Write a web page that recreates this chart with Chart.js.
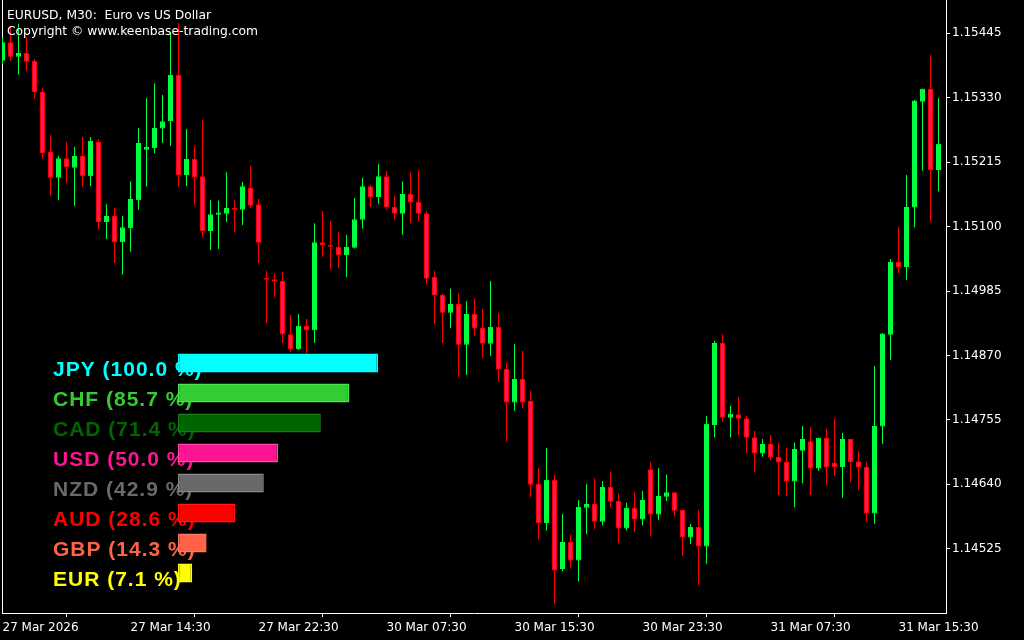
<!DOCTYPE html>
<html>
<head>
<meta charset="utf-8">
<script src="https://cdn.jsdelivr.net/npm/chart.js"></script>
<style>
  html, body { margin: 0; padding: 0; background: #000; }
  #wrap { position: relative; width: 1024px; height: 640px; background: #000; }
  #wrap canvas { position: absolute; left: 0; top: 0; }
</style>
</head>
<body>
<div id="wrap">
  <canvas id="main" width="1024" height="640"></canvas>
  <canvas id="strength" width="1024" height="640"></canvas>
</div>
<script>
// ---------- DATA ----------
const titleLines = ['EURUSD, M30:  Euro vs US Dollar', 'Copyright \u00A9 www.keenbase-trading.com'];

const open = [
1.15396,1.15429,1.15403,1.15410,1.15396,1.15340,1.15233,1.15187,1.15222,1.15205,
1.15226,1.15190,1.15251,1.15108,1.15119,1.15072,1.15097,1.15147,1.15237,1.15240,
1.15275,1.15288,1.15371,1.15192,1.15221,1.15190,1.15092,1.15121,1.15123,1.15133,
1.15130,1.15169,1.15140,1.15008,1.15006,1.15003,1.14908,1.14881,1.14923,1.14915,
1.15072,1.15067,1.15064,1.15049,1.15062,1.15112,1.15172,1.15153,1.15190,1.15135,
1.15123,1.15158,1.15144,1.15124,1.15010,1.14978,1.14946,1.14962,1.14889,1.14944,
1.14919,1.14891,1.14921,1.14846,1.14786,1.14828,1.14789,1.14641,1.14571,1.14648,
1.14489,1.14537,1.14504,1.14598,1.14605,1.14573,1.14635,1.14610,1.14561,1.14598,
1.14577,1.14667,1.14586,1.14618,1.14626,1.14594,1.14545,1.14564,1.14529,1.14746,
1.14892,1.14759,1.14765,1.14758,1.14724,1.14695,1.14712,1.14689,1.14680,1.14645,
1.14700,1.14717,1.14668,1.14723,1.14679,1.14671,1.14721,1.14681,1.14671,1.14588,
1.14743,1.14907,1.15037,1.15028,1.15134,1.15323,1.15346,1.15201];

const high = [
1.15437,1.15456,1.15462,1.15438,1.15399,1.15347,1.15263,1.15226,1.15251,1.15242,
1.15260,1.15260,1.15256,1.15140,1.15133,1.15119,1.15181,1.15276,1.15329,1.15356,
1.15335,1.15447,1.15463,1.15274,1.15244,1.15290,1.15147,1.15146,1.15197,1.15147,
1.15180,1.15208,1.15149,1.15021,1.15017,1.15019,1.14942,1.14944,1.14935,1.15106,
1.15128,1.15110,1.15090,1.15085,1.15151,1.15187,1.15174,1.15212,1.15199,1.15155,
1.15181,1.15197,1.15201,1.15128,1.15021,1.14981,1.14989,1.14981,1.14967,1.14972,
1.14953,1.15003,1.14946,1.14858,1.14890,1.14878,1.14807,1.14669,1.14705,1.14657,
1.14587,1.14550,1.14612,1.14641,1.14651,1.14646,1.14662,1.14623,1.14607,1.14626,
1.14628,1.14680,1.14669,1.14657,1.14626,1.14594,1.14569,1.14594,1.14762,1.14896,
1.14908,1.14780,1.14796,1.14762,1.14735,1.14721,1.14728,1.14714,1.14705,1.14714,
1.14744,1.14742,1.14723,1.14739,1.14758,1.14732,1.14721,1.14699,1.14680,1.14851,
1.14910,1.15042,1.15099,1.15192,1.15326,1.15346,1.15406,1.15329];

const low = [
1.15390,1.15396,1.15371,1.15378,1.15328,1.15221,1.15155,1.15147,1.15178,1.15137,
1.15171,1.15172,1.15094,1.15078,1.15035,1.15014,1.15055,1.15130,1.15171,1.15231,
1.15249,1.15244,1.15171,1.15172,1.15139,1.15081,1.15058,1.15060,1.15108,1.15090,
1.15103,1.15133,1.15035,1.14928,1.14974,1.14892,1.14876,1.14880,1.14874,1.14892,
1.15046,1.15024,1.15026,1.15010,1.15061,1.15096,1.15135,1.15140,1.15130,1.15112,
1.15085,1.15106,1.15108,1.14997,1.14926,1.14892,1.14919,1.14831,1.14835,1.14905,
1.14865,1.14869,1.14824,1.14716,1.14771,1.14776,1.14617,1.14541,1.14557,1.14426,
1.14485,1.14491,1.14467,1.14551,1.14560,1.14567,1.14599,1.14535,1.14558,1.14555,
1.14567,1.14548,1.14576,1.14610,1.14583,1.14512,1.14533,1.14460,1.14498,1.14724,
1.14751,1.14724,1.14728,1.14696,1.14662,1.14689,1.14683,1.14621,1.14619,1.14599,
1.14642,1.14621,1.14664,1.14639,1.14655,1.14616,1.14644,1.14630,1.14573,1.14569,
1.14712,1.14862,1.15017,1.15005,1.15099,1.15199,1.15108,1.15163];

const close = [
1.15429,1.15403,1.15410,1.15394,1.15340,1.15231,1.15187,1.15222,1.15206,1.15226,
1.15190,1.15253,1.15108,1.15119,1.15072,1.15099,1.15149,1.15249,1.15242,1.15276,
1.15288,1.15371,1.15192,1.15221,1.15188,1.15092,1.15122,1.15125,1.15133,1.15130,
1.15172,1.15137,1.15071,1.15005,1.15002,1.14908,1.14881,1.14923,1.14915,1.15072,
1.15067,1.15064,1.15049,1.15064,1.15113,1.15172,1.15153,1.15190,1.15134,1.15123,
1.15158,1.15143,1.15123,1.15007,1.14977,1.14946,1.14962,1.14889,1.14944,1.14918,
1.14891,1.14921,1.14845,1.14786,1.14828,1.14786,1.14639,1.14571,1.14648,1.14486,
1.14537,1.14504,1.14600,1.14605,1.14573,1.14635,1.14609,1.14561,1.14598,1.14577,
1.14612,1.14586,1.14619,1.14626,1.14593,1.14545,1.14564,1.14529,1.14748,1.14892,
1.14759,1.14766,1.14757,1.14723,1.14695,1.14712,1.14688,1.14679,1.14645,1.14703,
1.14721,1.14668,1.14723,1.14670,1.14671,1.14721,1.14680,1.14670,1.14588,1.14744,
1.14909,1.15037,1.15028,1.15135,1.15325,1.15346,1.15201,1.15248];

const xTickIndex  = [0, 16, 32, 48, 64, 80, 96, 112];
const xTickLabels = ['27 Mar 2026','27 Mar 14:30','27 Mar 22:30','30 Mar 07:30','30 Mar 15:30','30 Mar 23:30','31 Mar 07:30','31 Mar 15:30'];
const yTickLabels = ['1.14525','1.14640','1.14755','1.14870','1.14985','1.15100','1.15215','1.15330','1.15445'];
const yMin = 1.144103, yMax = 1.155044;

const currencies = ['JPY','CHF','CAD','USD','NZD','AUD','GBP','EUR'];
const strengths  = [100.0, 85.7, 71.4, 50.0, 42.9, 28.6, 14.3, 7.1];
const strengthColors  = ['#00ffff','#32cd32','#006400','#ff1493','#696969','#ff0000','#ff6347','#ffff00'];
const strengthBorders = ['#00ffff','#4ee44e','#1d7a1d','#ff4aa8','#8a8a8a','#ff1a1a','#ff7a62','#ffff00'];

// ---------- STYLE ----------
const BULL = '#00ff40', BEAR_FILL = '#ff1464', BEAR_LINE = '#ff0000';

const idx = open.map((_, i) => i);
const bull = idx.map(i => close[i] >= open[i]);

const titlePlugin = {
  id: 'mtTitle',
  afterDraw(chart) {
    const c = chart.ctx;
    c.save();
    c.fillStyle = '#ffffff';
    c.font = '12.3px "DejaVu Sans"';
    c.textBaseline = 'alphabetic';
    c.textAlign = 'left';
    c.fillText(titleLines[0], 7, 18.5);
    c.fillText(titleLines[1], 7, 34.5);
    c.restore();
  }
};

new Chart(document.getElementById('main'), {
  type: 'bar',
  data: {
    datasets: [
      {
        label: 'wicks',
        data: idx.map(i => ({ x: i, y: [low[i], high[i]] })),
        backgroundColor: idx.map(i => bull[i] ? BULL : BEAR_LINE),
        borderWidth: 0,
        barThickness: 1,
        inflateAmount: 0,
        grouped: false,
        order: 2
      },
      {
        label: 'bodies',
        data: idx.map(i => ({ x: i, y: [open[i], close[i]] })),
        backgroundColor: idx.map(i => bull[i] ? BULL : BEAR_FILL),
        borderColor: idx.map(i => bull[i] ? BULL : BEAR_LINE),
        borderWidth: 1,
        borderSkipped: false,
        barThickness: 5,
        inflateAmount: 0,
        grouped: false,
        order: 1
      }
    ]
  },
  options: {
    responsive: false,
    animation: false,
    events: [],
    layout: { padding: 0 },
    plugins: { legend: { display: false }, tooltip: { enabled: false }, title: { display: false } },
    scales: {
      x: {
        type: 'linear',
        min: -0.0625,
        max: 117.9375,
        offset: false,
        grid: { display: true, drawOnChartArea: false, drawTicks: true, tickLength: 4, color: '#ffffff', lineWidth: 1 },
        border: { display: true, color: '#ffffff', width: 1 },
        ticks: {
          color: '#ffffff',
          font: { family: 'DejaVu Sans', size: 12 },
          align: 'start',
          maxRotation: 0,
          minRotation: 0,
          autoSkip: false,
          padding: 4,
          callback: (v, i) => xTickLabels[i]
        },
        afterBuildTicks: s => { s.ticks = xTickIndex.map(v => ({ value: v })); },
        afterFit: s => { s.height = 27; s.paddingLeft = 0; s.paddingRight = 0; }
      },
      y: {
        type: 'linear',
        position: 'right',
        min: yMin,
        max: yMax,
        grid: { display: true, drawOnChartArea: false, drawTicks: true, tickLength: 4, color: '#ffffff', lineWidth: 1 },
        border: { display: true, color: '#ffffff', width: 1 },
        ticks: {
          color: '#ffffff',
          font: { family: 'DejaVu Sans', size: 12 },
          padding: 2,
          callback: v => yTickLabels.find(t => Math.abs(parseFloat(t) - v) < 1e-7) || ''
        },
        afterBuildTicks: s => { s.ticks = yTickLabels.map(t => ({ value: parseFloat(t) })); },
        afterFit: s => { s.width = 78; s.paddingTop = 0; s.paddingBottom = 0; }
      },
      yl: {
        type: 'linear',
        position: 'left',
        min: 0,
        max: 1,
        grid: { display: false, drawOnChartArea: false, drawTicks: false },
        border: { display: true, color: '#ffffff', width: 1 },
        ticks: { display: false },
        afterFit: s => { s.width = 2; s.paddingTop = 0; s.paddingBottom = 0; }
      }
    }
  },
  plugins: [titlePlugin]
});

// ---------- currency strength overlay ----------
const labelPlugin = {
  id: 'strengthLabels',
  beforeDatasetsDraw(chart) {
    const c = chart.ctx;
    const ys = chart.scales.y;
    c.save();
    c.font = 'bold 21px "Liberation Sans"';
    c.textAlign = 'left';
    c.textBaseline = 'alphabetic';
    try { c.letterSpacing = '1px'; } catch (e) {}
    currencies.forEach((cur, i) => {
      const cy = ys.getPixelForValue(i);
      c.fillStyle = strengthColors[i];
      c.fillText(cur + ' (' + strengths[i].toFixed(1) + ' %)', 53, cy + 12.5);
    });
    c.restore();
  }
};

new Chart(document.getElementById('strength'), {
  type: 'bar',
  data: {
    labels: currencies,
    datasets: [{
      data: strengths,
      backgroundColor: strengthColors,
      borderColor: strengthBorders,
      borderWidth: 1.5,
      borderSkipped: false,
      barThickness: 19,
      inflateAmount: 0,
      clip: false
    }]
  },
  options: {
    indexAxis: 'y',
    responsive: false,
    animation: false,
    events: [],
    layout: { padding: { left: 178, right: 646, top: 348, bottom: 52 } },
    plugins: { legend: { display: false }, tooltip: { enabled: false } },
    scales: {
      x: { display: false, min: 0, max: 100 },
      y: { display: false }
    }
  },
  plugins: [labelPlugin]
});
</script>
</body>
</html>
